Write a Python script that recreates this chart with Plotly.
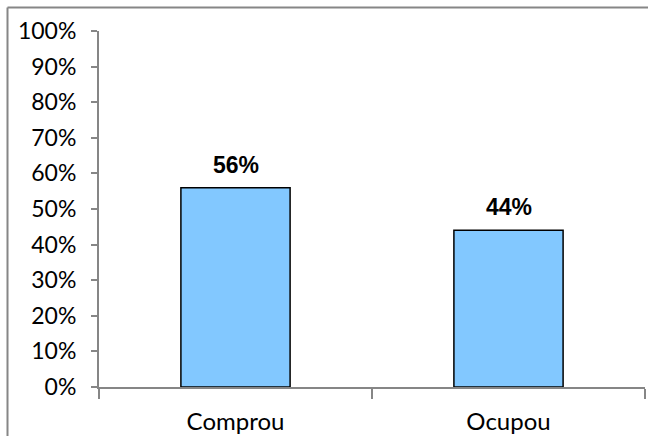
import plotly.graph_objects as go

categories = ["Comprou", "Ocupou"]
values = [0.56, 0.44]
y_ticks = [0, 0.1, 0.2, 0.3, 0.4, 0.5, 0.6, 0.7, 0.8, 0.9, 1.0]
y_tick_labels = ["0%", "10%", "20%", "30%", "40%", "50%", "60%", "70%", "80%", "90%", "100%"]
bar_labels = ["56%", "44%"]

W, H = 648, 436
ML, MR, MT, MB = 99, 3, 31, 49
GRAY = "#868686"

fig = go.Figure(
    go.Bar(
        x=categories,
        y=values,
        marker=dict(color="#82C8FF", line=dict(color="#000000", width=1.5)),
        width=0.4,
        hoverinfo="skip",
    )
)

for cat, val, lab in zip(categories, values, bar_labels):
    fig.add_annotation(
        x=cat, y=val, text=f"<b>{lab}</b>", showarrow=False,
        yanchor="bottom", yshift=8,
        font=dict(family="Liberation Sans, Arial", size=23, color="#000000"),
    )

# outer frame (top and left edges)
pw = W - ML - MR
ph = H - MT - MB
x_left = (7.5 - ML) / pw
y_top = (H - MB - 7.5) / ph
fig.add_shape(type="line", xref="paper", yref="paper",
              x0=x_left, x1=(W - ML) / pw + 0.01, y0=y_top, y1=y_top,
              line=dict(color=GRAY, width=2))
fig.add_shape(type="line", xref="paper", yref="paper",
              x0=x_left, x1=x_left, y0=y_top, y1=-MB / ph - 0.01,
              line=dict(color=GRAY, width=2))

fig.update_layout(
    width=W, height=H,
    margin=dict(l=ML, r=MR, t=MT, b=MB),
    plot_bgcolor="white", paper_bgcolor="white",
    showlegend=False,
    font=dict(family="Lato, Open Sans, sans-serif", color="#000000"),
)
fig.update_yaxes(
    range=[0, 1], tickvals=y_ticks, ticktext=y_tick_labels,
    showgrid=False, zeroline=False, automargin=False,
    showline=True, linecolor=GRAY, linewidth=2,
    ticks="outside", ticklen=6, tickcolor=GRAY, tickwidth=2,
    ticklabelstandoff=10,
    tickfont=dict(size=23, color="#000000"),
)
fig.update_xaxes(
    range=[-0.5, 1.5],
    showgrid=False, zeroline=False, automargin=False,
    showline=True, linecolor=GRAY, linewidth=2,
    ticks="outside", tickson="boundaries", ticklen=10, tickcolor=GRAY, tickwidth=2,
    ticklabelstandoff=12,
    tickfont=dict(size=24, color="#000000"),
)

fig.write_html("out.html")
